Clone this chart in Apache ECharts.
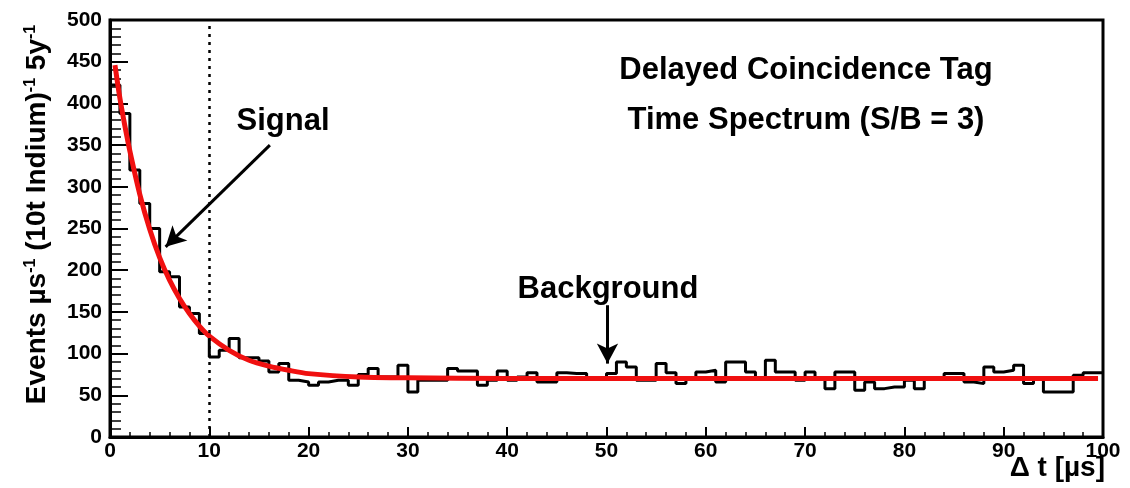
<!DOCTYPE html>
<html>
<head>
<meta charset="utf-8">
<script src="https://cdn.jsdelivr.net/npm/echarts@6/dist/echarts.min.js"></script>
<style>
    html, body { margin: 0; padding: 0; background: #fff; }
    #chart { width: 1130px; height: 488px; }
</style>
</head>
<body>
<div id="chart"></div>
<script>
    // histogram: 100 bins of 1 us each
    const binWidth = 1;
    const binCounts = [
        422, 388, 320, 280, 250, 198, 192, 156, 148, 124,
        96, 104, 118, 95, 95, 91, 78, 88, 68, 66,
        62, 66, 68, 68, 62, 75, 82, 72, 72, 86,
        54, 68, 68, 68, 82, 79, 79, 62, 68, 79,
        68, 72, 77, 66, 66, 77, 76, 76, 70, 70,
        76, 90, 84, 68, 68, 88, 77, 64, 70, 78,
        80, 66, 90, 90, 78, 70, 92, 78, 78, 68,
        78, 71, 58, 78, 78, 56, 66, 58, 60, 60,
        68, 58, 71, 71, 76, 76, 66, 64, 84, 78,
        80, 86, 64, 70, 54, 54, 54, 74, 77, 77
    ];

    // red fit curve, sampled by eye
    const fitX = [0.5, 1, 1.5, 2, 3, 4, 5, 6, 7, 8, 9, 10, 12, 14, 16, 18, 20, 25, 30, 40, 50, 60, 70, 80, 90, 99.5];
    const fitY = [446, 406, 373, 343, 291, 249, 215, 188, 166, 148, 133, 121, 104, 92, 85, 80, 76, 72, 71, 70, 70, 70, 70, 70, 70, 70];

    const xTicks = [0, 10, 20, 30, 40, 50, 60, 70, 80, 90, 100];
    const yTicks = [0, 50, 100, 150, 200, 250, 300, 350, 400, 450, 500];

    const histData = binCounts.map((v, i) => [i * binWidth, v]);
    histData.push([binCounts.length * binWidth, binCounts[binCounts.length - 1]]);
    const fitData = fitX.map((x, i) => [x, fitY[i]]);

    const font = 'Liberation Sans';
    const noteFont = 'bold 31px "Liberation Sans"';

    const myChart = echarts.init(document.getElementById('chart'));
    const option = {
        backgroundColor: '#fff',
        animation: false,
        grid: {
            left: 110, right: 27, top: 20, bottom: 51,
            show: true, borderColor: '#000', borderWidth: 3
        },
        xAxis: {
            type: 'value',
            min: xTicks[0], max: xTicks[xTicks.length - 1], interval: 10,
            axisLine: { lineStyle: { color: '#000', width: 3 } },
            axisTick: { inside: true, length: 10, lineStyle: { color: '#000', width: 2 } },
            minorTick: { show: true, splitNumber: 5, length: 5, lineStyle: { color: '#000', width: 1.5 } },
            splitLine: { show: false },
            axisLabel: {
                color: '#000', fontFamily: font, fontWeight: 'bold', fontSize: 21, margin: 4,
                showMinLabel: true, showMaxLabel: true
            }
        },
        yAxis: {
            type: 'value',
            min: yTicks[0], max: yTicks[yTicks.length - 1], interval: 50,
            axisLine: { show: true, lineStyle: { color: '#000', width: 3 } },
            axisTick: { show: true, inside: true, length: 18, lineStyle: { color: '#000', width: 2 } },
            minorTick: { show: true, splitNumber: 5, length: 11, lineStyle: { color: '#000', width: 1.5 } },
            splitLine: { show: false },
            axisLabel: {
                color: '#000', fontFamily: font, fontWeight: 'bold', fontSize: 21, margin: 8,
                showMinLabel: true, showMaxLabel: true
            },
            name: '{t|Events µs}{s|-1}{t| (10t Indium)}{s|-1}{t| 5y}{s|-1}',
            nameLocation: 'middle',
            nameGap: 58,
            nameTextStyle: {
                padding: [0, 0, 0, 28],
                rich: {
                    t: { fontFamily: font, fontWeight: 'bold', fontSize: 28, color: '#000' },
                    s: { fontFamily: font, fontWeight: 'bold', fontSize: 16, color: '#000', verticalAlign: 'top', padding: [0, 0, 13, 0] }
                }
            }
        },
        graphic: [
            { type: 'text', x: 806, y: 55, style: { text: 'Delayed Coincidence Tag', font: noteFont, fill: '#000', align: 'center', verticalAlign: 'top' } },
            { type: 'text', x: 806, y: 105, style: { text: 'Time Spectrum (S/B = 3)', font: noteFont, fill: '#000', align: 'center', verticalAlign: 'top' } },
            { type: 'text', x: 283, y: 106, style: { text: 'Signal', font: noteFont, fill: '#000', align: 'center', verticalAlign: 'top' } },
            { type: 'text', x: 608, y: 274, style: { text: 'Background', font: noteFont, fill: '#000', align: 'center', verticalAlign: 'top' } },
            { type: 'text', x: 1105, y: 454, style: { text: 'Δ t [µs]', font: 'bold 28px "Liberation Sans"', fill: '#000', align: 'right', verticalAlign: 'top' } }
        ],
        series: [
            {
                name: 'hist',
                type: 'line',
                step: 'end',
                data: histData,
                symbol: 'none',
                lineStyle: { color: '#000', width: 3 },
                z: 2,
                markLine: {
                    silent: true,
                    symbol: 'none',
                    label: { show: false },
                    lineStyle: { color: '#000', width: 2.5, type: [3, 5] },
                    data: [[{ coord: [10, 0] }, { coord: [10, 500] }]]
                }
            },
            {
                name: 'fit',
                type: 'line',
                smooth: 0.3,
                data: fitData,
                symbol: 'none',
                lineStyle: { color: '#f01010', width: 5 },
                z: 3,
                markLine: {
                    silent: true,
                    symbol: ['none', 'arrow'],
                    symbolSize: [16, 20],
                    label: { show: false },
                    lineStyle: { color: '#000', width: 3, type: 'solid' },
                    data: [
                        [{ coord: [16.1, 350] }, { coord: [5.6, 228] }],
                        [{ coord: [50.1, 158] }, { coord: [50.1, 88] }]
                    ]
                }
            }
        ]
    };
    myChart.setOption(option);
</script>
</body>
</html>
